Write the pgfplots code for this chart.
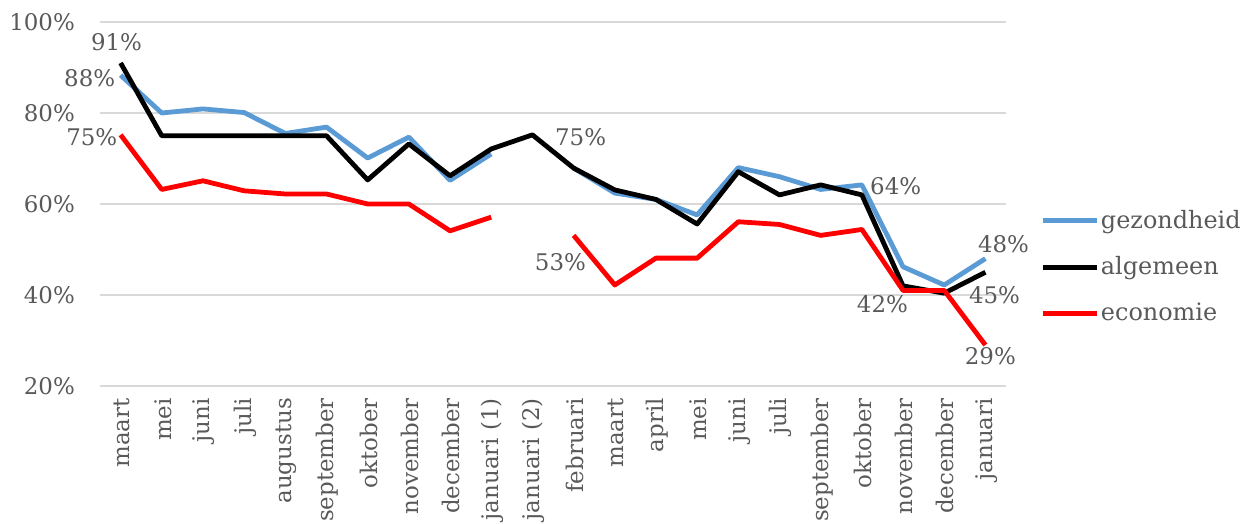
\documentclass[border=0pt]{standalone}
\usepackage{pgfplots}
\pgfplotsset{compat=1.18}
\usepackage{fontspec}
\setmainfont{DejaVu Serif}
\definecolor{txt}{HTML}{595959}
\definecolor{gridc}{HTML}{D9D9D9}
\definecolor{blu}{HTML}{5B9BD5}
\definecolor{rd}{HTML}{FF0000}
\begin{document}
\fontsize{23}{27}\selectfont
\begin{tikzpicture}
\path[use as bounding box] (0,0) rectangle (1240bp,524bp);
\begin{axis}[
  at={(100bp,138bp)}, anchor=south west,
  scale only axis, width=906bp, height=364bp,
  xmin=-0.5, xmax=21.5, ymin=20, ymax=100,
  ytick={20,40,60,80,100},
  yticklabel={\pgfmathprintnumber{\tick}\%},
  xtick={0,...,21},
  xticklabels={maart,mei,juni,juli,augustus,september,oktober,november,december,januari (1),januari (2),februari,maart,april,mei,juni,juli,september,oktober,november,december,januari},
  xticklabel style={yshift=-12bp, xshift=1bp, rotate=90, anchor=east, inner sep=0pt, text=txt, font=\fontsize{23}{27}\selectfont},
  yticklabel style={xshift=-25bp, anchor=east, inner sep=0pt, text=txt, font=\fontsize{23}{27}\selectfont},
  /pgf/number format/assume math mode=true,
  axis line style={draw=none},
  major tick length=0pt,
  ymajorgrids, major grid style={draw=gridc, line width=1.5bp},
  clip=false,
  unbounded coords=jump,
  legend style={at={(1.0375,0.327)}, anchor=west, draw=none, fill=none, inner sep=0pt, row sep=21bp, font=\fontsize{24}{28}\selectfont, text=txt, nodes={inner sep=2bp}},
  legend cell align=left,
  legend image code/.code={\draw[#1] (0bp,0bp) -- (54bp,0bp);},
  every axis plot/.append style={line width=4.8bp, line join=round},
]
\addplot[blu] coordinates {(0,88.3) (1,80) (2,80.9) (3,80.1) (4,75.5) (5,76.9) (6,70.1) (7,74.7) (8,65.2) (9,71) (10,nan) (11,67.9) (12,62.4) (13,61) (14,57.6) (15,68) (16,66) (17,63.2) (18,64.2) (19,46.2) (20,42.2) (21,48)};
\addlegendentry{gezondheid}
\addplot[black] coordinates {(0,91) (1,75) (2,75) (3,75) (4,75) (5,75) (6,65.3) (7,73.2) (8,66.2) (9,72.1) (10,75.2) (11,67.9) (12,63.1) (13,61) (14,55.6) (15,67.1) (16,62) (17,64.2) (18,62) (19,42) (20,40.4) (21,45)};
\addlegendentry{algemeen}
\addplot[rd] coordinates {(0,75.2) (1,63.2) (2,65.1) (3,62.9) (4,62.2) (5,62.2) (6,60) (7,60) (8,54.1) (9,57.1) (10,nan) (11,53.1) (12,42.2) (13,48.1) (14,48.1) (15,56.1) (16,55.5) (17,53.1) (18,54.4) (19,41) (20,41) (21,29)};
\addlegendentry{economie}
\begin{scope}[every node/.style={text=txt, inner sep=0pt, font=\fontsize{23}{27}\selectfont}]
\node at (axis cs:-0.10,95.6) {91\%};
\node at (axis cs:-0.75,87.7) {88\%};
\node at (axis cs:-0.70,74.7) {75\%};
\node at (axis cs:11.17,74.7) {75\%};
\node at (axis cs:10.68,47.25) {53\%};
\node at (axis cs:18.82,63.9) {64\%};
\node at (axis cs:18.50,37.9) {42\%};
\node at (axis cs:21.44,51.2) {48\%};
\node at (axis cs:21.22,40.0) {45\%};
\node at (axis cs:21.12,26.6) {29\%};
\end{scope}
\end{axis}
\end{tikzpicture}
\end{document}
